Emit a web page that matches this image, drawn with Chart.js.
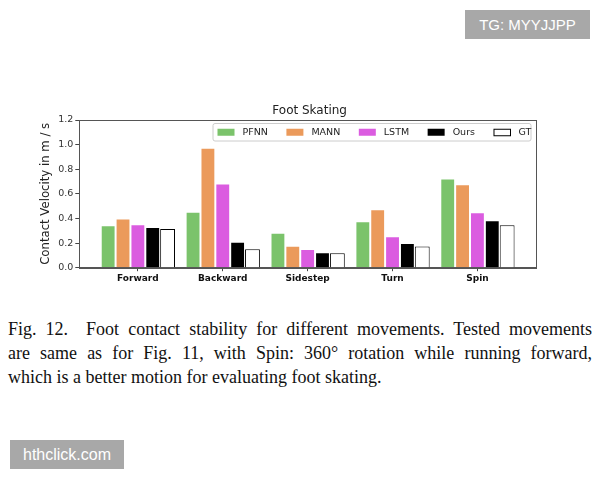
<!DOCTYPE html>
<html>
<head>
<meta charset="utf-8">
<script src="https://cdn.jsdelivr.net/npm/chart.js@4.4.1/dist/chart.umd.min.js"></script>
<style>
  body { margin: 0; width: 600px; height: 480px; background: #fff; position: relative; overflow: hidden; }
  #chart-box { position: absolute; left: 0; top: 95px; width: 600px; height: 195px; }
  .tag { position: absolute; background: #a8a8a8; color: #fff; font-family: 'Liberation Sans', Arial, sans-serif; text-align: center; }
  #tg { left: 465px; top: 10px; width: 125px; height: 29px; line-height: 29px; font-size: 15px; }
  #site { left: 10px; top: 440px; width: 114px; height: 29px; line-height: 29px; font-size: 16px; }
  #caption { position: absolute; left: 8px; top: 317px; width: 584px; font-family: 'Liberation Serif', serif; font-size: 18px; line-height: 24px; color: #111; }
  #caption .j { text-align: justify; text-align-last: justify; white-space: nowrap; }
</style>
</head>
<body>
<div id="tg" class="tag">TG: MYYJJPP</div>
<div id="chart-box"><canvas id="skate-chart"></canvas></div>
<div id="caption">
  <div class="j">Fig. 12.&emsp;Foot contact stability for different movements. Tested movements</div>
  <div class="j">are same as for Fig. 11, with Spin: 360° rotation while running forward,</div>
  <div>which is a better motion for evaluating foot skating.</div>
</div>
<div id="site" class="tag">hthclick.com</div>

<script>
const movements = ['Forward', 'Backward', 'Sidestep', 'Turn', 'Spin'];
const methods = ['PFNN', 'MANN', 'LSTM', 'Ours', 'GT'];
const pfnn = [0.344, 0.455, 0.284, 0.377, 0.724];
const mann = [0.400, 0.975, 0.179, 0.474, 0.678];
const lstm = [0.352, 0.685, 0.152, 0.255, 0.450];
const ours = [0.330, 0.210, 0.125, 0.200, 0.385];
const gt   = [0.314, 0.149, 0.117, 0.173, 0.344];
const yTicks = [0, 0.2, 0.4, 0.6, 0.8, 1.0, 1.2];
const chartTitle = 'Foot Skating';

const fills = ['#7bc36b', '#eb9a5b', '#db5ce0', '#000000', '#ffffff'];
const edges = ['#ffffff', '#ffffff', '#ffffff', '#ffffff', '#000000'];

const asPoints = (vals) => vals.map((v, i) => ({x: i, y: v}));

// title over the plot centre, legend box inside the plot top right, frame around the plot
const plotDecor = {
    id: 'plotDecor',
    afterDatasetsDraw(chart) {
        const ctx = chart.ctx;
        const area = chart.chartArea;
        const boxR = area.right - 5.5, boxT = area.top + 3, boxH = 17.5, boxW = 318;
        const boxL = boxR - boxW;
        ctx.save();
        ctx.fillStyle = 'rgba(255,255,255,0.85)';
        ctx.strokeStyle = '#cccccc';
        ctx.lineWidth = 1;
        ctx.beginPath();
        ctx.roundRect(boxL + 0.5, boxT + 0.5, boxW, boxH, 2);
        ctx.fill();
        ctx.stroke();
        ctx.font = '9.5px "DejaVu Sans"';
        ctx.textBaseline = 'middle';
        let x = boxL + 5;
        const cy = boxT + boxH / 2 + 0.5;
        chart.data.datasets.forEach(ds => {
            ctx.fillStyle = ds.backgroundColor;
            ctx.fillRect(x, cy - 3.5, 17, 7);
            if (ds.backgroundColor === '#ffffff') {
                ctx.strokeStyle = '#000';
                ctx.strokeRect(x + 0.5, cy - 3, 16.5, 6.5);
            }
            ctx.fillStyle = '#222';
            ctx.fillText(ds.label, x + 25, cy);
            x += 25 + ctx.measureText(ds.label).width + 18.5;
        });
        ctx.restore();
    },
    afterDraw(chart) {
        const a = chart.chartArea;
        const ctx = chart.ctx;
        ctx.save();
        ctx.strokeStyle = '#555';
        ctx.lineWidth = 1;
        ctx.strokeRect(Math.round(a.left) + 0.5, Math.round(a.top) + 0.5, Math.round(a.right - a.left), Math.round(a.bottom - a.top));
        ctx.fillStyle = '#222';
        ctx.font = '12px "DejaVu Sans"';
        ctx.textAlign = 'center';
        ctx.textBaseline = 'middle';
        ctx.fillText(chartTitle, (a.left + a.right) / 2 + 2, a.top - 9);
        ctx.restore();
    }
};

const seriesVals = [pfnn, mann, lstm, ours, gt];

new Chart(document.getElementById('skate-chart'), {
    type: 'bar',
    data: {
        datasets: methods.map((m, k) => ({
            label: m,
            data: asPoints(seriesVals[k]),
            backgroundColor: fills[k],
            borderColor: edges[k],
            borderWidth: 1,
            categoryPercentage: 0.875,
            barPercentage: 1.0,
        }))
    },
    options: {
        responsive: true,
        maintainAspectRatio: false,
        animation: false,
        devicePixelRatio: 1,
        layout: { padding: { left: 0, right: 64, top: 25, bottom: 0 } },
        plugins: {
            legend: { display: false },
            tooltip: { enabled: false },
            title: { display: false }
        },
        scales: {
            x: {
                type: 'linear',
                offset: false,
                min: -0.69,
                max: 4.69,
                afterBuildTicks: (s) => { s.ticks = movements.map((_, i) => ({value: i})); },
                afterFit: (s) => { s.height = 22.3; },
                ticks: {
                    autoSkip: false,
                    maxRotation: 0,
                    padding: 2,
                    color: '#111',
                    font: { family: 'DejaVu Sans', size: 9, weight: 'bold' },
                    callback: (v) => movements[v]
                },
                grid: { offset: false, drawOnChartArea: false, drawTicks: true, tickLength: 3.5, color: '#444' },
                border: { display: true, color: '#555' }
            },
            y: {
                min: 0,
                max: 1.2,
                afterBuildTicks: (s) => { s.ticks = yTicks.map(v => ({value: v})); },
                afterFit: (s) => { s.width = 79.3; },
                ticks: {
                    padding: 2,
                    color: '#333',
                    font: { family: 'DejaVu Sans', size: 9.5 },
                    callback: (v) => v.toFixed(1)
                },
                grid: { drawOnChartArea: false, drawTicks: true, tickLength: 4, color: '#444' },
                border: { display: true, color: '#555' },
                title: {
                    display: true,
                    text: 'Contact Velocity in m / s',
                    color: '#222',
                    font: { family: 'DejaVu Sans', size: 11.7 },
                    padding: { top: 39, bottom: 0 }
                }
            }
        }
    },
    plugins: [plotDecor]
});
</script>
</body>
</html>
